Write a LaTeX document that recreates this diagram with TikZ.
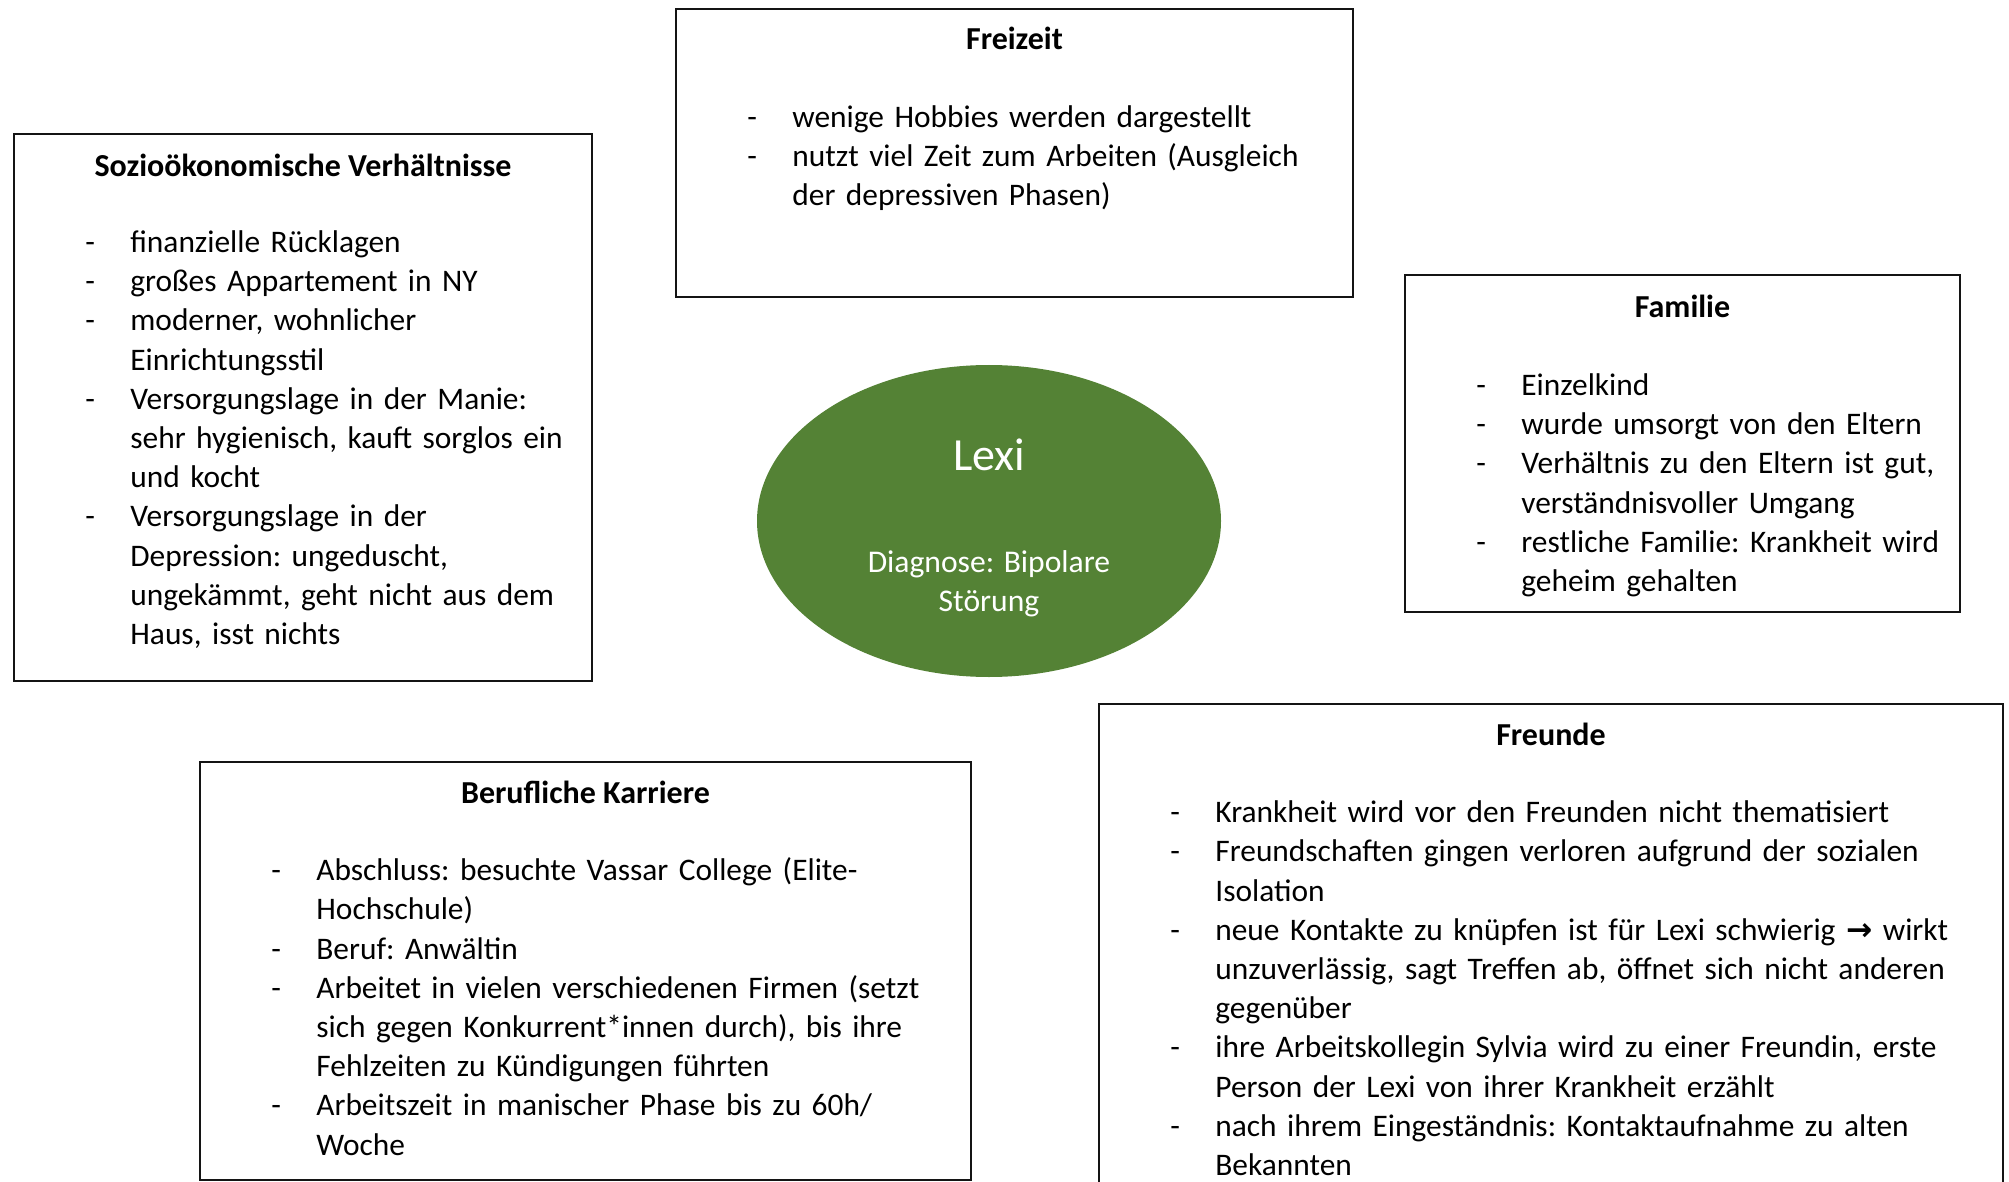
\documentclass[tikz,border=0pt]{standalone}
\usepackage{fontspec}
\setmainfont{Carlito}
\newfontfamily\arrowfont{DejaVu Sans}
\usetikzlibrary{positioning,calc,shapes.geometric}
\definecolor{cLexi}{HTML}{548235}
\definecolor{cLine}{HTML}{141414}
\newlength\dashind
\setlength\dashind{22.5pt}
\newcommand\dashitem[1]{\par\noindent\hangindent=\dashind\hangafter=1%
  \makebox[\dashind][l]{-}\strut{\let\\\newline#1}}
\tikzset{
  infobox/.style  = {rectangle, draw=cLine, line width=1pt, fill=white,
                     anchor=north west, inner sep=0pt},
  boxtitle/.style = {font=\fontsize{16}{19.6}\selectfont\bfseries,
                     inner sep=0pt, anchor=base},
  boxlist/.style  = {font=\fontsize{15.7}{19.6}\selectfont\frenchspacing,
                     inner sep=0pt, anchor=north west, align=left},
  lexinode/.style = {ellipse, fill=cLexi, draw=none, inner sep=0pt,
                     minimum width=232pt, minimum height=156pt},
  lexitext/.style = {text=white, inner sep=0pt, align=center},
}

\begin{document}
\begin{tikzpicture}[x=1pt, y=-1pt]
  \path[use as bounding box, clip] (0,0) rectangle (1004.5,591);
  % ---- centre ----
  \node[lexinode] (lexi) at (494.5,260.5) {};
  \node[lexitext, font=\fontsize{23}{28}\selectfont] (lexiname)
    at ([yshift=33pt]lexi.center) {Lexi};
  \node[lexitext, font=\fontsize{15.8}{19.6}\selectfont] (diagnose)
    at ([yshift=-31.5pt]lexi.center) {Diagnose: Bipolare\\Störung};
  % ---- Sozioökonomische Verhältnisse ----
  \node[infobox, minimum width=289pt, minimum height=273.5pt] (sozio) at (6.5,66.5) {};
  \node[boxtitle] (soziotitle) at ([yshift=-21.8pt]sozio.north)
    {Sozioökonomische Verhältnisse};
  \node[boxlist, text width=251pt] (soziolist)
    at ([xshift=36pt, yshift=-40pt]sozio.north west) {%
    \dashitem{finanzielle Rücklagen}
    \dashitem{großes Appartement in NY}
    \dashitem{moderner, wohnlicher\\Einrichtungsstil}
    \dashitem{Versorgungslage in der Manie:\\sehr hygienisch, kauft sorglos ein\\und kocht}
    \dashitem{Versorgungslage in der\\Depression: ungeduscht,\\ungekämmt, geht nicht aus dem\\Haus, isst nichts}\par};
  % ---- Freizeit ----
  \node[infobox, minimum width=338.5pt, minimum height=144pt] (freizeit) at (337.5,4) {};
  \node[boxtitle] (freizeittitle) at ([yshift=-20.8pt]freizeit.north) {Freizeit};
  \node[boxlist, text width=298pt] (freizeitlist)
    at ([xshift=36pt, yshift=-40pt]freizeit.north west) {%
    \dashitem{wenige Hobbies werden dargestellt}
    \dashitem{nutzt viel Zeit zum Arbeiten (Ausgleich\\der depressiven Phasen)}\par};
  % ---- Familie ----
  \node[infobox, minimum width=277.5pt, minimum height=168.5pt] (familie) at (702,137) {};
  \node[boxtitle] (familietitle) at ([yshift=-21.8pt]familie.north) {Familie};
  \node[boxlist, text width=238pt] (familielist)
    at ([xshift=36pt, yshift=-41pt]familie.north west) {%
    \dashitem{Einzelkind}
    \dashitem{wurde umsorgt von den Eltern}
    \dashitem{Verhältnis zu den Eltern ist gut,\\verständnisvoller Umgang}
    \dashitem{restliche Familie: Krankheit wird\\geheim gehalten}\par};
  % ---- Berufliche Karriere ----
  \node[infobox, minimum width=385.5pt, minimum height=209pt] (beruf) at (99.5,380.5) {};
  \node[boxtitle] (beruftitle) at ([yshift=-21.3pt]beruf.north) {Berufliche Karriere};
  \node[boxlist, text width=345pt] (beruflist)
    at ([xshift=36pt, yshift=-40pt]beruf.north west) {%
    \dashitem{Abschluss: besuchte Vassar College (Elite-\\Hochschule)}
    \dashitem{Beruf: Anwältin}
    \dashitem{Arbeitet in vielen verschiedenen Firmen (setzt\\sich gegen Konkurrent*innen durch), bis ihre\\Fehlzeiten zu Kündigungen führten}
    \dashitem{Arbeitszeit in manischer Phase bis zu 60h/\\Woche}\par};
  % ---- Freunde ----
  \node[infobox, minimum width=452pt, minimum height=270pt] (freunde) at (549,351.5) {};
  \node[boxtitle] (freundetitle) at ([yshift=-21.3pt]freunde.north) {Freunde};
  \node[boxlist, text width=412pt] (freundelist)
    at ([xshift=36pt, yshift=-40pt]freunde.north west) {%
    \dashitem{Krankheit wird vor den Freunden nicht thematisiert}
    \dashitem{Freundschaften gingen verloren aufgrund der sozialen\\Isolation}
    \dashitem{neue Kontakte zu knüpfen ist für Lexi schwierig {\arrowfont\bfseries →} wirkt\\unzuverlässig, sagt Treffen ab, öffnet sich nicht anderen\\gegenüber}
    \dashitem{ihre Arbeitskollegin Sylvia wird zu einer Freundin, erste\\Person der Lexi von ihrer Krankheit erzählt}
    \dashitem{nach ihrem Eingeständnis: Kontaktaufnahme zu alten\\Bekannten}\par};
\end{tikzpicture}
\end{document}
